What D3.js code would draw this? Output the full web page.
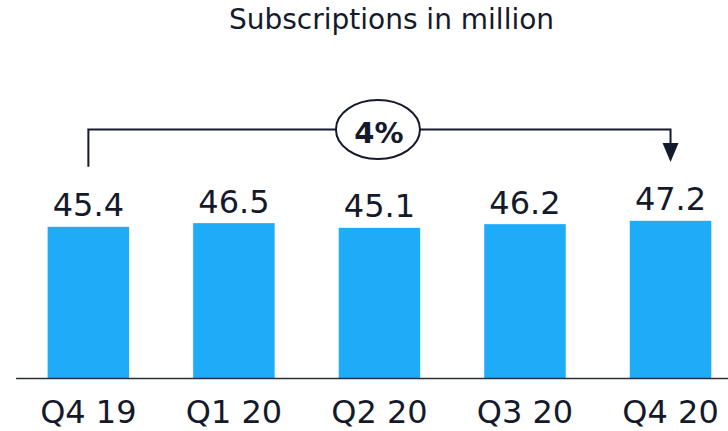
<!DOCTYPE html>
<html>

<head>
  <meta charset="utf-8">
  <title>Subscriptions in million</title>
  <style>
    body { margin: 0; background: #fff; }
    text { font-family: 'DejaVu Sans', Verdana, sans-serif; fill: #141a2c; }
  </style>
</head>

<body>

  <script src="https://cdn.jsdelivr.net/npm/d3@7"></script>
  <script>
    const quarters = ['Q4 19', 'Q1 20', 'Q2 20', 'Q3 20', 'Q4 20'];
    const subscriptions = [45.4, 46.5, 45.1, 46.2, 47.2];
    const growthLabel = '4%';

    const width = 728;
    const height = 431;
    const ink = '#141a2c';

    const svg = d3.select('body')
      .append('svg')
      .attr('width', width)
      .attr('height', height);

    const x = d3.scaleBand()
      .domain(quarters)
      .range([15.6, 743.3])
      .paddingInner(0.44)
      .paddingOuter(0.22);

    const y = d3.scaleLinear()
      .domain([0, 50])
      .range([378, 378 - 166.5]);

    // title
    svg.append('text')
      .attr('x', 391.5)
      .attr('y', 28.5)
      .attr('text-anchor', 'middle')
      .attr('font-size', 28)
      .text('Subscriptions in million');

    // bars
    svg.append('g')
      .selectAll('rect')
      .data(subscriptions)
      .join('rect')
      .attr('x', (d, i) => x(quarters[i]))
      .attr('y', (d) => y(d))
      .attr('width', x.bandwidth())
      .attr('height', (d) => y(0) - y(d))
      .attr('fill', '#1eabf7');

    // value labels
    svg.append('g')
      .selectAll('text')
      .data(subscriptions)
      .join('text')
      .attr('x', (d, i) => x(quarters[i]) + x.bandwidth() / 2)
      .attr('y', (d) => y(d) - 10.5)
      .attr('text-anchor', 'middle')
      .attr('font-size', 32)
      .text((d) => d.toFixed(1));

    // x axis
    const axis = svg.append('g')
      .attr('transform', `translate(0,${y(0)})`)
      .call(d3.axisBottom(x).tickSize(0).tickSizeOuter(0));

    axis.select('.domain')
      .attr('stroke', '#2a2f3d')
      .attr('stroke-width', 1.6);

    axis.selectAll('text')
      .attr('dy', null)
      .attr('y', 45.3)
      .attr('font-size', 32)
      .attr('font-family', "'DejaVu Sans', Verdana, sans-serif")
      .attr('fill', ink);

    // growth bracket from first to last bar
    const cx0 = x(quarters[0]) + x.bandwidth() / 2;
    const cx1 = x(quarters[quarters.length - 1]) + x.bandwidth() / 2;
    const bracketY = 129.5;
    const midX = (cx0 + cx1) / 2 - 1.5;

    svg.append('path')
      .attr('d', `M${cx0},166.7 V${bracketY} H${cx1} V146`)
      .attr('fill', 'none')
      .attr('stroke', ink)
      .attr('stroke-width', 2);

    svg.append('path')
      .attr('d', `M${cx1 - 8},143 L${cx1 + 8},143 L${cx1},162 Z`)
      .attr('fill', ink);

    svg.append('ellipse')
      .attr('cx', midX)
      .attr('cy', bracketY)
      .attr('rx', 42)
      .attr('ry', 29.5)
      .attr('fill', '#fff')
      .attr('stroke', ink)
      .attr('stroke-width', 2);

    svg.append('text')
      .attr('x', midX + 1)
      .attr('y', 143.3)
      .attr('text-anchor', 'middle')
      .attr('font-size', 29)
      .attr('font-weight', 'bold')
      .text(growthLabel);
  </script>

</body>

</html>
